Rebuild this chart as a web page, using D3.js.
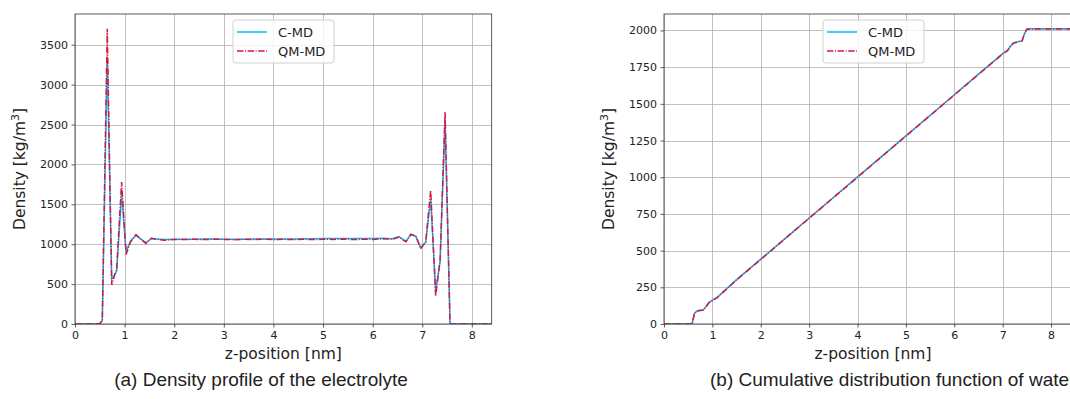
<!DOCTYPE html>
<html>
<head>
<meta charset="utf-8">
<script src="https://cdn.jsdelivr.net/npm/d3@7"></script>
<style>
  body { margin: 0; background: #fff; }
  svg { display: block; }
</style>
</head>
<body>
<div id="chart"></div>
<script>
// (a) density profile, z in nm
const zDens = [0, 0.2, 0.4, 0.5, 0.55, 0.65, 0.74, 0.84, 0.94, 1.03, 1.12, 1.23, 1.33, 1.43, 1.54, 1.65, 1.8,
  2.0, 2.2, 2.4, 2.6, 2.8, 3.0, 3.2, 3.4, 3.6, 3.8, 4.0, 4.2, 4.4, 4.6, 4.8, 5.0, 5.2, 5.4, 5.6, 5.8, 6.0, 6.2, 6.4,
  6.53, 6.67, 6.77, 6.87, 6.97, 7.07, 7.17, 7.27, 7.36, 7.46, 7.56, 7.7, 8.0, 8.4];
const cmdDens = [0, 0, 0, 5, 40, 3350, 560, 660, 1620, 910, 1040, 1110, 1065, 1020, 1070, 1065, 1060,
  1062, 1063, 1063, 1064, 1064, 1063, 1062, 1063, 1064, 1065, 1064, 1065, 1066, 1068, 1068, 1070, 1071, 1072, 1070, 1072, 1073, 1075, 1068,
  1095, 1035, 1120, 1100, 955, 1025, 1560, 420, 780, 2560, 0, 0, 0, 0];
const qmdDens = [0, 0, 0, 5, 40, 3700, 490, 700, 1780, 870, 1030, 1120, 1060, 1010, 1075, 1060, 1050,
  1060, 1058, 1062, 1058, 1062, 1060, 1057, 1061, 1058, 1062, 1057, 1061, 1058, 1062, 1058, 1062, 1060, 1064, 1058, 1062, 1060, 1068, 1062,
  1090, 1030, 1125, 1100, 945, 1030, 1675, 350, 800, 2655, 0, 0, 0, 0];

// (b) cumulative distribution
const zCum = [0, 0.3, 0.58, 0.63, 0.68, 0.75, 0.81, 0.87, 0.93, 1.0, 1.1, 1.5, 2.0, 2.5, 3.0, 3.5, 4.0, 4.5, 5.0,
  5.5, 6.0, 6.5, 7.0, 7.1, 7.17, 7.23, 7.3, 7.4, 7.45, 7.5, 7.55, 8.0, 8.64];
const cmdCum = [0, 0, 0, 72, 89, 93, 96, 120, 147, 162, 182, 302, 442, 582, 722, 862, 1002, 1142, 1282,
  1422, 1562, 1702, 1842, 1864, 1897, 1917, 1922, 1930, 1977, 2009, 2011, 2011, 2011];
const qmdCum = [0, 0, 0, 70, 88, 92, 95, 118, 145, 160, 180, 300, 440, 580, 720, 860, 1000, 1140, 1280,
  1420, 1560, 1700, 1840, 1862, 1895, 1915, 1920, 1928, 1975, 2008, 2010, 2010, 2010];

const xTicks = [0, 1, 2, 3, 4, 5, 6, 7, 8];
const yTicksDens = [0, 500, 1000, 1500, 2000, 2500, 3000, 3500];
const yTicksCum = [0, 250, 500, 750, 1000, 1250, 1500, 1750, 2000];
const seriesNames = ["C-MD", "QM-MD"];

const width = 1070, height = 399;
const svg = d3.select("#chart").append("svg")
  .attr("width", width).attr("height", height)
  .attr("viewBox", [0, 0, width, height]);

function drawPanel(p) {
  const x = d3.scaleLinear().domain([0, p.xmax]).range([p.left, p.right]);
  const y = d3.scaleLinear().domain([0, p.ymax]).range([p.bottom, p.top]);
  const g = svg.append("g");

  const clipId = "clip" + p.id;
  g.append("clipPath").attr("id", clipId).append("rect")
    .attr("x", p.left).attr("y", p.top)
    .attr("width", p.right - p.left).attr("height", p.bottom - p.top);

  // grid
  g.append("g").selectAll("line").data(xTicks).enter().append("line")
    .attr("x1", d => Math.round(x(d)) + 0.5).attr("x2", d => Math.round(x(d)) + 0.5)
    .attr("y1", p.top).attr("y2", p.bottom)
    .attr("stroke", "#b0b0b0").attr("stroke-width", 0.8);
  g.append("g").selectAll("line").data(p.yTicks).enter().append("line")
    .attr("x1", p.left).attr("x2", p.right)
    .attr("y1", d => Math.round(y(d)) + 0.5).attr("y2", d => Math.round(y(d)) + 0.5)
    .attr("stroke", "#b0b0b0").attr("stroke-width", 0.8);

  // lines
  const line = d3.line().x((d, i) => x(p.z[i])).y(d => y(d));
  const lines = g.append("g").attr("clip-path", `url(#${clipId})`);
  lines.append("path").datum(p.a).attr("d", line)
    .attr("fill", "none").attr("stroke", "#00bfff").attr("stroke-width", 1.5);
  lines.append("path").datum(p.b).attr("d", line)
    .attr("fill", "none").attr("stroke", "#dc143c").attr("stroke-width", 1.5)
    .attr("stroke-dasharray", "6.4,1.6,1,1.6");

  // spines
  g.append("rect")
    .attr("x", p.left).attr("y", p.top)
    .attr("width", p.right - p.left).attr("height", p.bottom - p.top)
    .attr("fill", "none").attr("stroke", "#333").attr("stroke-width", 0.8);

  // axes
  const xAxis = d3.axisBottom(x).tickValues(xTicks).tickSize(3.5).tickPadding(3.5).tickFormat(d3.format("d"));
  const yAxis = d3.axisLeft(y).tickValues(p.yTicks).tickSize(3.5).tickPadding(3.5).tickFormat(d3.format("d"));
  g.append("g").attr("transform", `translate(0,${p.bottom})`).call(xAxis);
  g.append("g").attr("transform", `translate(${p.left},0)`).call(yAxis);
  g.selectAll(".domain").remove();
  g.selectAll(".tick line").attr("stroke", "#333").attr("stroke-width", 0.8);
  g.selectAll(".tick text").attr("font-family", "DejaVu Sans").attr("font-size", 11).attr("fill", "#222");

  // labels
  g.append("text")
    .attr("x", (p.left + p.labelRight) / 2).attr("y", 359)
    .attr("text-anchor", "middle").attr("font-family", "DejaVu Sans").attr("font-size", 15.5).attr("fill", "#222")
    .text("z-position [nm]");
  const yl = g.append("text")
    .attr("transform", `translate(${p.ylabelX},${(p.top + p.bottom) / 2}) rotate(-90)`)
    .attr("text-anchor", "middle").attr("font-family", "DejaVu Sans").attr("font-size", 15.5).attr("fill", "#222");
  yl.append("tspan").text("Density [kg/m");
  yl.append("tspan").attr("dy", -6).attr("font-size", 11).text("3");
  yl.append("tspan").attr("dy", 6).text("]");

  // legend
  const lg = g.append("g").attr("transform", `translate(${p.legendX},20)`);
  lg.append("rect").attr("width", 101).attr("height", 43).attr("rx", 3)
    .attr("fill", "white").attr("fill-opacity", 0.8).attr("stroke", "#d0d0d0").attr("stroke-width", 1);
  const colors = ["#00bfff", "#dc143c"];
  seriesNames.forEach((name, i) => {
    const yy = 12 + i * 19;
    lg.append("line").attr("x1", 4).attr("x2", 34).attr("y1", yy).attr("y2", yy)
      .attr("stroke", colors[i]).attr("stroke-width", 1.5)
      .attr("stroke-dasharray", i === 1 ? "6.4,1.6,1,1.6" : null);
    lg.append("text").attr("x", 45).attr("y", yy + 4.5)
      .attr("font-family", "DejaVu Sans").attr("font-size", 13).attr("fill", "#222").text(name);
  });

  // caption
  svg.append("text")
    .attr("x", p.captionX).attr("y", 386)
    .attr("text-anchor", p.captionAnchor)
    .attr("font-family", "Liberation Sans").attr("font-size", 19).attr("fill", "#222")
    .text(p.caption);
}

drawPanel({
  id: "a", left: 75, right: 491.7, labelRight: 491.7, top: 14, bottom: 324,
  xmax: 8.4, ymax: 3885, yTicks: yTicksDens,
  z: zDens, a: cmdDens, b: qmdDens,
  ylabelX: 25, legendX: 233,
  caption: "(a) Density profile of the electrolyte", captionX: 261, captionAnchor: "middle"
});

drawPanel({
  id: "b", left: 664, right: 1082, labelRight: 1082, top: 14, bottom: 324,
  xmax: 8.64, ymax: 2112, yTicks: yTicksCum,
  z: zCum, a: cmdCum, b: qmdCum,
  ylabelX: 614, legendX: 823,
  caption: "(b) Cumulative distribution function of water", captionX: 710, captionAnchor: "start"
});
</script>
</body>
</html>
